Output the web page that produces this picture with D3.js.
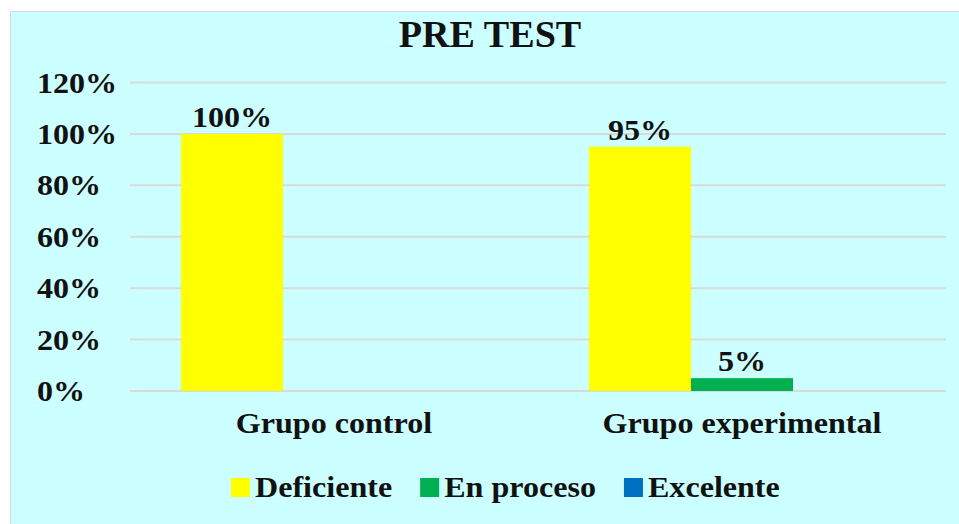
<!DOCTYPE html>
<html>
<head>
<meta charset="utf-8">
<script src="https://cdn.jsdelivr.net/npm/d3@7"></script>
<style>
html,body{margin:0;padding:0;background:#fff;}
svg{display:block;}
text{font-family:"Liberation Serif","Times New Roman",serif;font-weight:bold;fill:#111;}
</style>
</head>
<body>
<svg id="chart" width="959" height="524"></svg>
<script>
const title = "PRE TEST";
const categories = ["Grupo control", "Grupo experimental"];
const seriesNames = ["Deficiente", "En proceso", "Excelente"];
const seriesColors = ["#FFFF00", "#00B050", "#0070C0"];
const deficiente = [1.00, 0.95];
const enProceso = [0.00, 0.05];
const excelente = [0.00, 0.00];
const yTicks = [0, 0.2, 0.4, 0.6, 0.8, 1.0, 1.2];

const seriesValues = [deficiente, enProceso, excelente];
const svg = d3.select("#chart");
const SX = 1.07;
const place = (x, y, sx = SX) => `translate(${x},${y}) scale(${sx},1)`;

svg.append("rect").attr("x", 10.5).attr("y", 11.5).attr("width", 960).attr("height", 520)
  .attr("fill", "#CCFFFF").attr("stroke", "#d4dede").attr("stroke-width", 1);

const x0 = d3.scaleBand().domain(categories).range([130, 946]).padding(0);
const x1 = d3.scaleBand().domain(seriesNames).range([0, x0.bandwidth()]).paddingInner(0).paddingOuter(0.5);
const y = d3.scaleLinear().domain([0, 1.2]).range([391, 82.5]);
const fmt = d3.format(".0%");

// gridlines
svg.append("g").selectAll("line").data(yTicks).join("line")
  .attr("x1", 130).attr("x2", 946)
  .attr("y1", d => y(d)).attr("y2", d => y(d))
  .attr("stroke", "#d9d9d9").attr("stroke-width", 2);

// y labels
svg.append("g").selectAll("text").data(yTicks).join("text")
  .attr("transform", d => place(37, y(d) + 10))
  .attr("font-size", 30).attr("text-anchor", "start")
  .text(d => fmt(d));

// bars
const rows = [];
categories.forEach((c, i) => seriesNames.forEach((s, j) => rows.push({c, s, j, v: seriesValues[j][i]})));
svg.append("g").selectAll("rect").data(rows).join("rect")
  .attr("x", d => x0(d.c) + x1(d.s))
  .attr("width", x1.bandwidth())
  .attr("y", d => y(d.v))
  .attr("height", d => y(0) - y(d.v))
  .attr("fill", d => seriesColors[d.j]);

// data labels
svg.append("g").selectAll("text").data(rows.filter(d => d.v > 0)).join("text")
  .attr("transform", d => place(x0(d.c) + x1(d.s) + x1.bandwidth() / 2, y(d.v) - 7))
  .attr("font-size", 30).attr("text-anchor", "middle")
  .text(d => fmt(d.v));

// category labels
svg.append("g").selectAll("text").data(categories).join("text")
  .attr("transform", d => place(x0(d) + x0.bandwidth() / 2, 433))
  .attr("font-size", 30).attr("text-anchor", "middle")
  .text(d => d);

// title
svg.append("text").attr("transform", place(490, 46.5, 1.03))
  .attr("font-size", 37).attr("text-anchor", "middle").text(title);

// legend
const lg = svg.append("g");
let lx = 231;
seriesNames.forEach((s, j) => {
  lg.append("rect").attr("x", lx).attr("y", 478).attr("width", 19).attr("height", 19).attr("fill", seriesColors[j]);
  const t = lg.append("text").attr("transform", place(lx + 24, 497)).attr("font-size", 30).text(s);
  lx += 24 + t.node().getComputedTextLength() * SX + 28;
});
</script>
</body>
</html>
